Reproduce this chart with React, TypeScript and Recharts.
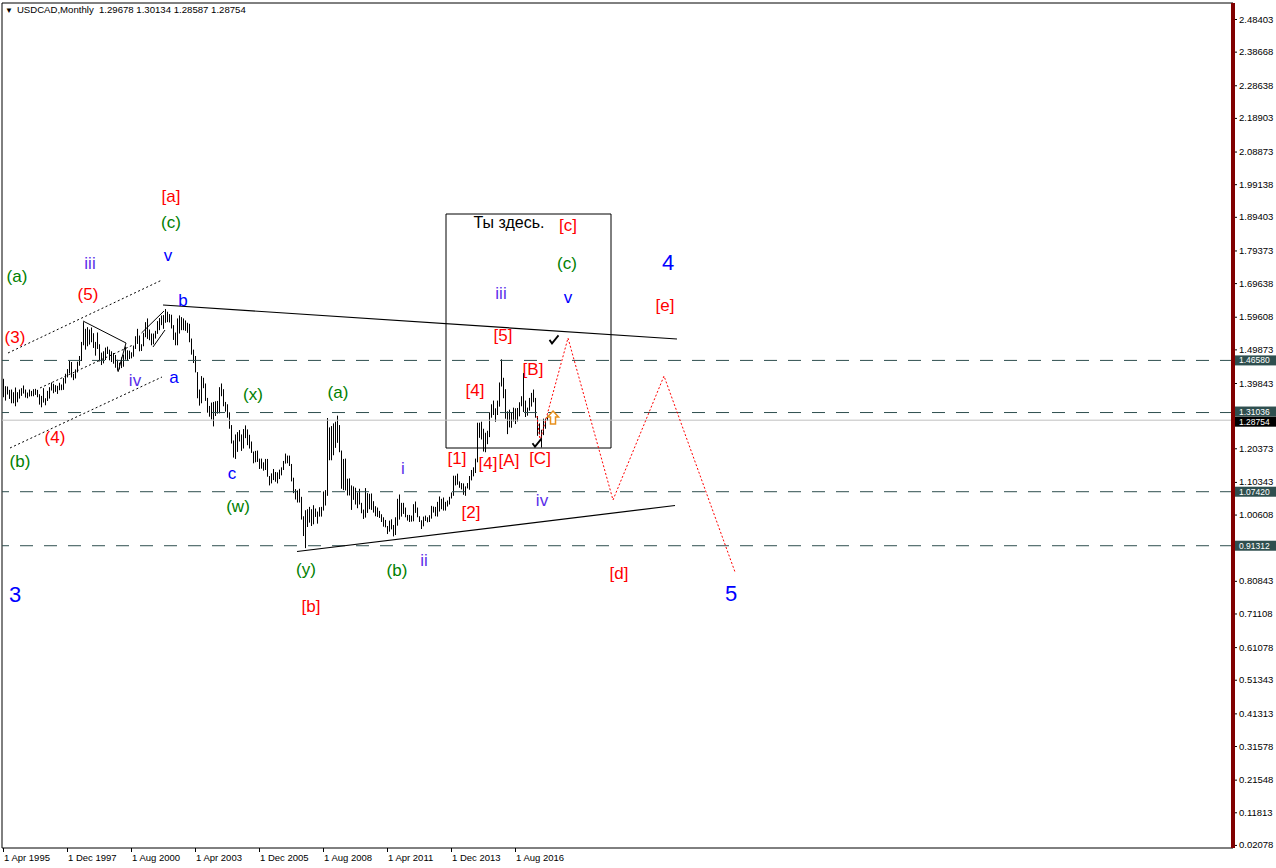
import React from 'react';
import { ComposedChart, Bar, Line, Scatter, XAxis, YAxis, ReferenceLine, ReferenceArea } from 'recharts';

// USDCAD monthly bars, index 0 = Apr 1995, last = Dec 2017
const barHighs: number[] = [
  1.4110, 1.3890, 1.3880, 1.3780, 1.3790, 1.3710, 1.3850, 1.3710, 1.3790,
  1.3830, 1.3910, 1.3790, 1.3700, 1.3790, 1.3750, 1.3800, 1.3810, 1.3780, 1.3650, 1.3600, 1.3830,
  1.3530, 1.3750, 1.3860, 1.4000, 1.3960, 1.3920, 1.3900, 1.3990, 1.3940, 1.4130, 1.4260, 1.4400,
  1.4640, 1.4610, 1.4260, 1.4390, 1.4620, 1.4790, 1.5210, 1.5800, 1.5600, 1.5650, 1.5580, 1.5640,
  1.5470, 1.5210, 1.5490, 1.5140, 1.4890, 1.4930, 1.5040, 1.5070, 1.4980, 1.4930, 1.4880, 1.4820,
  1.4680, 1.4590, 1.4750, 1.4830, 1.5070, 1.4960, 1.4950, 1.4900, 1.5100, 1.5380, 1.5600, 1.5400,
  1.5140, 1.5480, 1.5800, 1.5910, 1.5580, 1.5460, 1.5460, 1.5540, 1.5830, 1.5920, 1.6000, 1.6010,
  1.6190, 1.6110, 1.6040, 1.6020, 1.5710, 1.5490, 1.5910, 1.6000, 1.5950, 1.5910, 1.5850, 1.5780,
  1.5750, 1.5310, 1.4980, 1.4790, 1.4310, 1.3790, 1.4190, 1.4140, 1.3970, 1.3540, 1.3300, 1.3400,
  1.3420, 1.3440, 1.3450, 1.3860, 1.3970, 1.3800, 1.3420, 1.3350, 1.3110, 1.2730, 1.2270, 1.2450,
  1.2520, 1.2580, 1.2450, 1.2610, 1.2720, 1.2600, 1.2440, 1.2240, 1.1940, 1.1960, 1.1970, 1.1730,
  1.1730, 1.1620, 1.1720, 1.1720, 1.1210, 1.1290, 1.1420, 1.1330, 1.1320, 1.1400, 1.1470, 1.1660,
  1.1880, 1.1820, 1.1820, 1.1570, 1.1160, 1.0820, 1.0780, 1.0830, 1.0590, 1.0010, 1.0190, 1.0220,
  1.0290, 1.0220, 1.0340, 1.0240, 1.0150, 1.0280, 1.0290, 1.0750, 1.0790, 1.2940, 1.2660, 1.2700,
  1.2780, 1.2830, 1.3010, 1.2730, 1.1970, 1.1720, 1.1730, 1.1130, 1.1140, 1.0930, 1.0900, 1.0860,
  1.0720, 1.0830, 1.0410, 1.0210, 1.0850, 1.0700, 1.0680, 1.0690, 1.0460, 1.0310, 1.0270, 1.0170,
  1.0070, 0.9980, 0.9900, 0.9720, 0.9880, 0.9920, 0.9750, 0.9980, 1.0530, 1.0660, 1.0410, 1.0410,
  1.0270, 1.0050, 1.0050, 1.0030, 1.0370, 1.0450, 1.0270, 1.0010, 0.9890, 1.0000, 1.0030, 0.9980,
  1.0040, 1.0320, 1.0300, 1.0290, 1.0440, 1.0600, 1.0530, 1.0570, 1.0440, 1.0480, 1.0590, 1.0720,
  1.1220, 1.1220, 1.1280, 1.1050, 1.1000, 1.0990, 1.0900, 1.1000, 1.1210, 1.1390, 1.1470, 1.1730,
  1.2800, 1.2800, 1.2830, 1.2620, 1.2500, 1.2560, 1.3110, 1.3350, 1.3460, 1.3230, 1.3460, 1.4000,
  1.4690, 1.4140, 1.3800, 1.3140, 1.3190, 1.3120, 1.3250, 1.3230, 1.3240, 1.3410, 1.3590, 1.4280,
  1.3460, 1.3250, 1.3540, 1.3690, 1.3790, 1.3540, 1.3000, 1.2780, 1.2590, 1.2920, 1.2920, 1.30134,
];
const barLows: number[] = [
  1.3560, 1.3460, 1.3640, 1.3510, 1.3380, 1.3380, 1.3290, 1.3410, 1.3520,
  1.3600, 1.3670, 1.3550, 1.3530, 1.3580, 1.3590, 1.3590, 1.3630, 1.3560, 1.3340, 1.3260, 1.3400,
  1.3320, 1.3450, 1.3520, 1.3760, 1.3680, 1.3720, 1.3660, 1.3770, 1.3770, 1.3780, 1.3970, 1.4150,
  1.4270, 1.4150, 1.4070, 1.4120, 1.4300, 1.4500, 1.4640, 1.5110, 1.4980, 1.5080, 1.5130, 1.5200,
  1.5030, 1.4800, 1.5000, 1.4630, 1.4520, 1.4570, 1.4670, 1.4850, 1.4660, 1.4610, 1.4560, 1.4440,
  1.4350, 1.4390, 1.4430, 1.4470, 1.4680, 1.4640, 1.4700, 1.4720, 1.4770, 1.5000, 1.5150, 1.4930,
  1.4940, 1.5080, 1.5350, 1.5300, 1.5260, 1.5110, 1.5140, 1.5310, 1.5450, 1.5560, 1.5710, 1.5600,
  1.5780, 1.5800, 1.5790, 1.5610, 1.5270, 1.5110, 1.5110, 1.5460, 1.5560, 1.5560, 1.5540, 1.5480,
  1.5200, 1.4830, 1.4580, 1.4300, 1.3530, 1.3310, 1.3380, 1.3830, 1.3450, 1.3100, 1.2980, 1.2900,
  1.2690, 1.3000, 1.3070, 1.3080, 1.3590, 1.3290, 1.3130, 1.2950, 1.2620, 1.2180, 1.1760, 1.1720,
  1.1930, 1.2240, 1.1960, 1.2030, 1.2340, 1.2130, 1.2030, 1.1900, 1.1590, 1.1620, 1.1630, 1.1420,
  1.1430, 1.1370, 1.1390, 1.1190, 1.0930, 1.0990, 1.1090, 1.1040, 1.0990, 1.1120, 1.1230, 1.1390,
  1.1580, 1.1590, 1.1510, 1.1050, 1.0700, 1.0510, 1.0420, 1.0420, 0.9910, 0.9420, 0.9060, 0.9690,
  0.9820, 0.9720, 0.9770, 0.9990, 0.9790, 1.0000, 1.0000, 1.0180, 1.0330, 1.0620, 1.1680, 1.1680,
  1.1830, 1.2050, 1.2200, 1.1920, 1.0830, 1.0790, 1.0780, 1.0630, 1.0630, 1.0200, 1.0500, 1.0360,
  1.0250, 1.0360, 1.0100, 0.9930, 0.9970, 1.0110, 1.0220, 1.0200, 1.0120, 1.0010, 0.9990, 0.9960,
  0.9840, 0.9700, 0.9680, 0.9480, 0.9550, 0.9620, 0.9410, 0.9450, 0.9730, 0.9910, 1.0000, 1.0080,
  0.9980, 0.9880, 0.9840, 0.9850, 0.9860, 1.0110, 0.9980, 0.9840, 0.9630, 0.9710, 0.9870, 0.9830,
  0.9840, 0.9940, 1.0120, 1.0010, 1.0000, 1.0150, 1.0220, 1.0180, 1.0180, 1.0300, 1.0360, 1.0540,
  1.0620, 1.0930, 1.0950, 1.0860, 1.0810, 1.0650, 1.0620, 1.0840, 1.0800, 1.1080, 1.1200, 1.1300,
  1.1620, 1.2350, 1.2300, 1.1940, 1.1920, 1.2160, 1.2370, 1.2950, 1.3030, 1.2830, 1.3030, 1.3280,
  1.3880, 1.3530, 1.2920, 1.2460, 1.2660, 1.2650, 1.2840, 1.2760, 1.2840, 1.2990, 1.3290, 1.3120,
  1.2970, 1.3010, 1.3160, 1.3280, 1.3410, 1.2950, 1.2410, 1.2450, 1.2060, 1.2430, 1.2620, 1.28587,
];

const headerParts = ['USDCAD,Monthly', '1.29678', '1.30134', '1.28587', '1.28754'];

const dateTickIdx = [0, 32, 64, 96, 128, 160, 192, 224, 256];
const dateTickLabels = ['1 Apr 1995', '1 Dec 1997', '1 Aug 2000', '1 Apr 2003', '1 Dec 2005', '1 Aug 2008', '1 Apr 2011', '1 Dec 2013', '1 Aug 2016'];

const priceTicks = [2.48403, 2.38668, 2.28638, 2.18903, 2.08873, 1.99138, 1.89403, 1.79373, 1.69638, 1.59608, 1.49873, 1.39843, 1.20373, 1.10343, 1.00608, 0.80843, 0.71108, 0.61078, 0.51343, 0.41313, 0.31578, 0.21548, 0.11813, 0.02078];

const dashedLevels = [1.4658, 1.31036, 1.0742, 0.91312];
const dashedLevelText = ['1.46580', '1.31036', '1.07420', '0.91312'];
const bidLevel = 1.28754;
const bidLevelText = '1.28754';

// trend / channel lines (index, price)
const upperTrend = [{ i: 80, p: 1.63106 }, { i: 337, p: 1.52966 }];
const lowerTrend = [{ i: 147, p: 0.8959 }, { i: 336, p: 1.0331 }];
const channelTop = [{ i: 2.5, p: 1.48791 }, { i: 79.5, p: 1.70562 }];
const channelMid = [{ i: 18.5, p: 1.38352 }, { i: 65, p: 1.51177 }];
const channelLow = [{ i: 3.5, p: 1.20458 }, { i: 79.5, p: 1.41633 }];
const zigzag4 = [{ i: 40, p: 1.58334 }, { i: 61.5, p: 1.51773 }, { i: 57.5, p: 1.43124 }];
const wedgeA = [{ i: 69.25, p: 1.54757 }, { i: 80.5, p: 1.61317 }];
const wedgeB = [{ i: 75, p: 1.5058 }, { i: 81, p: 1.5565 }];
const projection = [
  { i: 267, p: 1.30001 }, { i: 268.5, p: 1.22545 }, { i: 282.5, p: 1.53264 },
  { i: 305, p: 1.04949 }, { i: 330.5, p: 1.41931 }, { i: 366, p: 0.83476 },
];
const youAreHereBox = { i1: 221.5, i2: 304, p1: 1.20458, p2: 1.90246 };

const redLabels = [
  { t: '[a]', i: 84, p: 1.956 }, { t: '(5)', i: 42.5, p: 1.661 }, { t: '(3)', i: 6, p: 1.533 },
  { t: '(4)', i: 26, p: 1.237 }, { t: '[b]', i: 154, p: 0.733 }, { t: '[c]', i: 282.5, p: 1.867 },
  { t: '[e]', i: 331, p: 1.631 }, { t: '[d]', i: 308, p: 0.829 }, { t: '[1]', i: 227, p: 1.172 },
  { t: '[2]', i: 234, p: 1.011 }, { t: '[4]', i: 236, p: 1.375 }, { t: '[4]', i: 242.5, p: 1.157 },
  { t: '[5]', i: 250, p: 1.539 }, { t: '[A]', i: 253, p: 1.166 }, { t: '[B]', i: 265, p: 1.44 },
  { t: '[C]', i: 268.5, p: 1.172 },
];
const greenLabels = [
  { t: '(a)', i: 7, p: 1.715 }, { t: '(c)', i: 84, p: 1.876 }, { t: '(b)', i: 8.5, p: 1.163 },
  { t: '(x)', i: 125, p: 1.363 }, { t: '(a)', i: 167.5, p: 1.369 }, { t: '(w)', i: 117.5, p: 1.029 },
  { t: '(y)', i: 151.5, p: 0.841 }, { t: '(b)', i: 197, p: 0.838 }, { t: '(c)', i: 282, p: 1.756 },
];
const blueLabels = [
  { t: 'v', i: 82.5, p: 1.78 }, { t: 'b', i: 90, p: 1.643 }, { t: 'a', i: 85.5, p: 1.416 },
  { t: 'c', i: 114.5, p: 1.13 }, { t: 'v', i: 282.5, p: 1.652 },
];
const blueBigLabels = [
  { t: '4', i: 332.5, p: 1.759 }, { t: '3', i: 6, p: 0.769 }, { t: '5', i: 364, p: 0.772 },
];
const violetLabels = [
  { t: 'iii', i: 43.5, p: 1.756 }, { t: 'iv', i: 66, p: 1.407 }, { t: 'i', i: 200, p: 1.142 },
  { t: 'ii', i: 210.5, p: 0.868 }, { t: 'iii', i: 249, p: 1.664 }, { t: 'iv', i: 269.5, p: 1.049 },
];
const blackLabels = [{ t: 'Ты здесь.', i: 253, p: 1.876 }];
const checkMarks = [{ i: 275.5, p: 1.527 }, { i: 267, p: 1.219 }];
const arrowMarks = [{ i: 275, p: 1.294 }];

const bars = barHighs.map((h, i) => ({ i, range: [barLows[i], h] }));

const FONT = "'Liberation Sans', Arial, sans-serif";

const makeText = (color: string, size: number) => (props: any) => {
  const { cx, cy, payload } = props;
  if (cx == null || cy == null) return <g />;
  return (
    <text x={cx} y={cy} fill={color} fontSize={size} fontFamily={FONT} textAnchor="middle" dominantBaseline="central">
      {payload.t}
    </text>
  );
};

const CheckShape = (props: any) => {
  const { cx, cy } = props;
  if (cx == null) return <g />;
  return <path d={`M${cx - 4.5},${cy} L${cx - 2},${cy + 3.5} L${cx + 4.5},${cy - 4.5}`} stroke="#000" strokeWidth={1.8} fill="none" />;
};

const ArrowShape = (props: any) => {
  const { cx, cy } = props;
  if (cx == null) return <g />;
  return (
    <path
      d={`M${cx},${cy - 7} L${cx + 5.5},${cy - 1} L${cx + 2.5},${cy - 1} L${cx + 2.5},${cy + 6} L${cx - 2.5},${cy + 6} L${cx - 2.5},${cy - 1} L${cx - 5.5},${cy - 1} Z`}
      fill="#fff" stroke="#E8901C" strokeWidth={1.5}
    />
  );
};

const BarShape = (props: any) => {
  const { x, y, width, height } = props;
  if (x == null || y == null) return <g />;
  const cx = Math.round(x + width / 2);
  const top = Math.min(y, y + height);
  const h = Math.max(Math.abs(height), 1);
  return <rect x={cx} y={top} width={1} height={h} fill="#000" />;
};

const YTick = (props: any) => {
  const { x, y, payload } = props;
  return (
    <g>
      <line x1={x + 2} x2={x + 4} y1={y + 0.5} y2={y + 0.5} stroke="#000" />
      <text x={x + 6} y={y} dy={3.5} fontSize={9.5} fontFamily={FONT} fill="#000">{Number(payload.value).toFixed(5)}</text>
    </g>
  );
};

const XTick = (props: any) => {
  const { x, y, payload } = props;
  const k = dateTickIdx.indexOf(payload.value);
  return (
    <g>
      <line x1={x + 0.5} x2={x + 0.5} y1={y} y2={y + 4} stroke="#000" />
      <text x={x + 1} y={y + 13} fontSize={9.5} fontFamily={FONT} fill="#000">{k >= 0 ? dateTickLabels[k] : ''}</text>
    </g>
  );
};

const PriceBox = (props: any) => {
  const { viewBox, txt, bg, shift = 0 } = props;
  const vy = (viewBox ? viewBox.y : 0) + shift;
  const vx = viewBox ? viewBox.x + viewBox.width : 1233;
  const x = vx + 2;
  return (
    <g>
      <rect x={x} y={vy - 5} width={41} height={10} fill={bg} />
      <text x={x + 4} y={vy} dy={3} fill="#fff" fontSize={8.5} fontFamily={FONT}>{txt}</text>
    </g>
  );
};

export default function App() {
  return (
    <div style={{ position: 'absolute', left: 0, top: 0, width: 1276, height: 868, background: '#fff' }}>
      <ComposedChart width={1276} height={868} data={bars} margin={{ top: 3, right: 0, bottom: 0, left: 2 }}>
        <XAxis
          dataKey="i" type="number" domain={[-0.5, 615]} allowDataOverflow
          ticks={dateTickIdx} interval={0} tick={<XTick />} tickLine={false} tickSize={0} tickMargin={0}
          axisLine={{ stroke: '#000' }} height={20}
        />
        <YAxis
          orientation="right" type="number" domain={[0.01162, 2.53175]} allowDataOverflow
          ticks={priceTicks} interval={0} tick={<YTick />} tickLine={false} tickSize={0} tickMargin={0}
          axisLine={{ stroke: '#800000', strokeWidth: 4 }} width={43}
        />
        <ReferenceLine x={-0.5} stroke="#000" />
        <ReferenceLine y={2.53175} stroke="#000" />
        {dashedLevels.map((lv, k) => (
          <ReferenceLine key={'d' + k} y={lv} stroke="#2F4F4F" strokeDasharray="13 11"
            label={<PriceBox txt={dashedLevelText[k]} bg="#2F4F4F" shift={k === 1 ? -1 : 0} />} />
        ))}
        <ReferenceLine y={bidLevel} stroke="#C0C0C0" label={<PriceBox txt={bidLevelText} bg="#000" shift={1.5} />} />
        <ReferenceArea x1={youAreHereBox.i1} x2={youAreHereBox.i2} y1={youAreHereBox.p1} y2={youAreHereBox.p2}
          fill="none" fillOpacity={0} stroke="#000" strokeWidth={1} />

        <Scatter data={redLabels} dataKey="p" isAnimationActive={false} shape={makeText('#FF0000', 17)} />
        <Scatter data={greenLabels} dataKey="p" isAnimationActive={false} shape={makeText('#008000', 17)} />
        <Scatter data={blueLabels} dataKey="p" isAnimationActive={false} shape={makeText('#0000FF', 17)} />
        <Scatter data={blueBigLabels} dataKey="p" isAnimationActive={false} shape={makeText('#0000FF', 22)} />
        <Scatter data={violetLabels} dataKey="p" isAnimationActive={false} shape={makeText('#5A2EEA', 17)} />
        <Scatter data={blackLabels} dataKey="p" isAnimationActive={false} shape={makeText('#000000', 16)} />

        <Bar dataKey="range" barSize={1} isAnimationActive={false} shape={<BarShape />} />

        <Line data={upperTrend} dataKey="p" stroke="#000" strokeWidth={1.2} dot={false} isAnimationActive={false} />
        <Line data={lowerTrend} dataKey="p" stroke="#000" strokeWidth={1.2} dot={false} isAnimationActive={false} />
        <Line data={channelTop} dataKey="p" stroke="#000" strokeDasharray="2 2.5" dot={false} isAnimationActive={false} />
        <Line data={channelMid} dataKey="p" stroke="#000" strokeDasharray="2 2.5" dot={false} isAnimationActive={false} />
        <Line data={channelLow} dataKey="p" stroke="#000" strokeDasharray="2 2.5" dot={false} isAnimationActive={false} />
        <Line data={zigzag4} dataKey="p" stroke="#000" dot={false} isAnimationActive={false} />
        <Line data={wedgeA} dataKey="p" stroke="#000" dot={false} isAnimationActive={false} />
        <Line data={wedgeB} dataKey="p" stroke="#000" dot={false} isAnimationActive={false} />
        <Line data={projection} dataKey="p" stroke="#FF0000" strokeDasharray="2 2" dot={false} isAnimationActive={false} />

        <Scatter data={checkMarks} dataKey="p" isAnimationActive={false} shape={<CheckShape />} />
        <Scatter data={arrowMarks} dataKey="p" isAnimationActive={false} shape={<ArrowShape />} />
      </ComposedChart>
      <div style={{ position: 'absolute', left: 5, top: 3, fontFamily: FONT, fontSize: 9.6, color: '#000', whiteSpace: 'pre', lineHeight: '14px' }}>
        <span style={{ fontSize: 8, marginRight: 4 }}>▼</span>
        {headerParts[0] + '  ' + headerParts.slice(1).join(' ')}
      </div>
    </div>
  );
}
